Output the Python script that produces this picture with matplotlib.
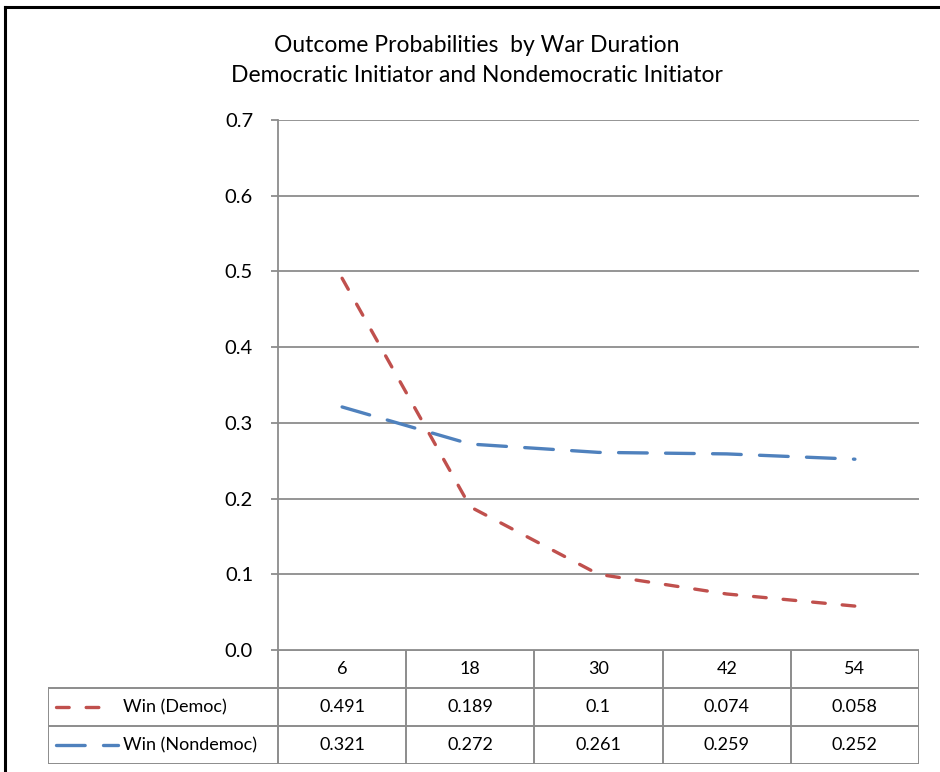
import matplotlib.pyplot as plt
from matplotlib.lines import Line2D

plt.rcParams['font.family'] = ['Lato', 'DejaVu Sans']

# Data
DURATION = ['6', '18', '30', '42', '54']
WIN_DEMOC = [0.491, 0.189, 0.1, 0.074, 0.058]
WIN_NONDEMOC = [0.321, 0.272, 0.261, 0.259, 0.252]
SERIES_NAMES = ['Win (Democ)', 'Win (Nondemoc)']
Y_TICKS = [0.0, 0.1, 0.2, 0.3, 0.4, 0.5, 0.6, 0.7]

RED = '#C0504D'
BLUE = '#4F81BD'
GRID = '#8C8C8C'

W, H = 940, 772


def fig_box(x0, y0, x1, y1):
    '''Convert a pixel box (top-left origin) to figure fractions.'''
    return [x0 / W, 1 - y1 / H, (x1 - x0) / W, (y1 - y0) / H]


def main():
    fig = plt.figure(figsize=(W / 100, H / 100), dpi=100)

    # frame of the chart area (only left and top edges are visible)
    fig.add_artist(Line2D([5 / W, 5 / W], [0, 1 - 7 / H], color='black',
                          lw=2.2, transform=fig.transFigure))
    fig.add_artist(Line2D([5 / W, 1], [1 - 7 / H, 1 - 7 / H], color='black',
                          lw=2.2, transform=fig.transFigure))

    fig.text(477 / W, 1 - 45 / H, 'Outcome Probabilities  by War Duration',
             ha='center', va='center', fontsize=16.5)
    fig.text(477 / W, 1 - 76 / H,
             'Democratic Initiator and Nondemocratic Initiator',
             ha='center', va='center', fontsize=16.5)

    ax = fig.add_axes(fig_box(278, 120, 919, 650))
    x = list(range(len(DURATION)))

    ax.plot(x, WIN_DEMOC, color=RED, lw=2.4, dashes=(3.8, 5.1),
            dash_capstyle='round')
    ax.plot(x, WIN_NONDEMOC, color=BLUE, lw=2.4, dashes=(8.6, 5.5),
            dash_capstyle='round')

    ax.set_xlim(-0.5, len(DURATION) - 0.5)
    ax.set_ylim(0, 0.7)
    ax.set_yticks(Y_TICKS)
    ax.set_yticklabels(['%.1f' % v for v in Y_TICKS], fontsize=14.5)
    ax.set_xticks([])
    ax.yaxis.grid(True, color=GRID, lw=1.3)
    ax.set_axisbelow(True)
    ax.tick_params(axis='y', length=5, width=1.3, color=GRID, pad=13)
    for side in ['top', 'right', 'bottom']:
        ax.spines[side].set_visible(False)
    ax.spines['left'].set_color(GRID)
    ax.spines['left'].set_linewidth(1.3)

    # data table under the plot
    label_w = (278 - 48) / 128.2
    left = -0.5 - label_w
    tbl = fig.add_axes(fig_box(48, 650, 919, 764))
    tbl.set_xlim(left, len(DURATION) - 0.5)
    tbl.set_ylim(3, 0)
    tbl.axis('off')

    lkw = dict(color=GRID, lw=1.4, solid_capstyle='butt')
    n = len(DURATION)
    # column separators
    for i in range(n + 1):
        tbl.plot([i - 0.5, i - 0.5], [0, 3], **lkw)
    tbl.plot([left, left], [1, 3], **lkw)
    # row separators
    tbl.plot([-0.5, n - 0.5], [0, 0], **lkw)
    for r in [1, 2, 3]:
        tbl.plot([left, n - 0.5], [r, r], **lkw)

    for i, lab in enumerate(DURATION):
        tbl.text(i, 0.5, lab, ha='center', va='center', fontsize=13)
        tbl.text(i, 1.5, '%g' % WIN_DEMOC[i], ha='center', va='center',
                 fontsize=13)
        tbl.text(i, 2.5, '%g' % WIN_NONDEMOC[i], ha='center', va='center',
                 fontsize=13)

    # legend keys: red key stops after two dashes, blue runs to the label
    keys = [(RED, (3.8, 5.1), 0.41), (BLUE, (8.6, 5.5), 0.545)]
    for r, (name, (col, dash, end)) in enumerate(zip(SERIES_NAMES, keys)):
        y = 1.5 + r
        tbl.plot([left + 0.06, left + end], [y, y], color=col, lw=2.4,
                 dashes=dash, dash_capstyle='round')
        tbl.text(left + 0.585, y, name, ha='left', va='center', fontsize=13)

    fig.savefig('out.png', dpi=100)


if __name__ == '__main__':
    main()
